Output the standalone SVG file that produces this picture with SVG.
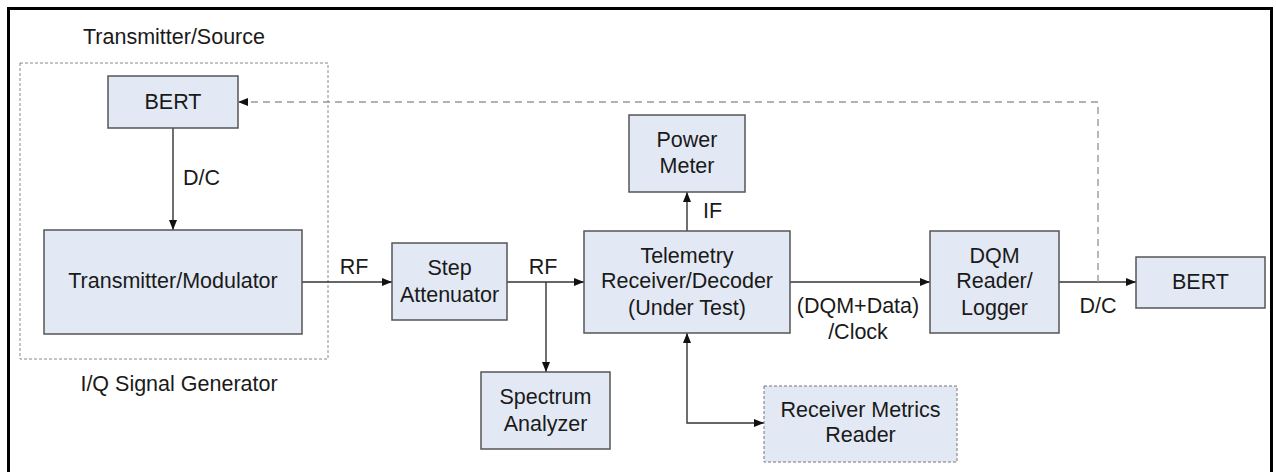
<svg xmlns="http://www.w3.org/2000/svg" width="1276" height="472" viewBox="0 0 1276 472">
<defs>
<marker id="arr" viewBox="0 0 10 8" markerUnits="userSpaceOnUse" markerWidth="10" markerHeight="8" refX="10" refY="4" orient="auto-start-reverse">
<path d="M0,0 L10,4 L0,8 z" fill="#111"/>
</marker>
<marker id="arrg" viewBox="0 0 10 8" markerUnits="userSpaceOnUse" markerWidth="10" markerHeight="8" refX="10" refY="4" orient="auto">
<path d="M0,0 L10,4 L0,8 z" fill="#111"/>
</marker>
<style>
text{font-family:"Liberation Sans",Arial,sans-serif;font-size:21.5px;fill:#1a1a1a;text-anchor:middle}
.box{fill:#e3e9f4;stroke:#555;stroke-width:1.5}
.dbox{fill:#e3e9f4;stroke:#777;stroke-width:1;stroke-dasharray:3 2}
.grp{fill:none;stroke:#888;stroke-width:1;stroke-dasharray:3 2}
.c{fill:none;stroke:#333;stroke-width:1.4}
.cd{fill:none;stroke:#999;stroke-width:1.4;stroke-dasharray:7 5}
.lbl{text-anchor:start}
</style>
</defs>
<rect width="1276" height="472" fill="#fff"/>
<rect x="8.5" y="8.5" width="1263" height="480" fill="none" stroke="#000" stroke-width="3"/>

<g id="group-source">
<rect class="grp" x="20" y="63" width="308" height="296"/>
<text x="174" y="44">Transmitter/Source</text>
<text x="179" y="391">I/Q Signal Generator</text>
</g>

<g id="connectors">
<line class="c" x1="173" y1="128" x2="173" y2="230" marker-end="url(#arr)"/>
<line class="c" x1="302" y1="282" x2="392" y2="282" marker-end="url(#arr)"/>
<line class="c" x1="507" y1="282" x2="584" y2="282" marker-end="url(#arr)"/>
<line class="c" x1="546" y1="282" x2="546" y2="372" marker-end="url(#arr)"/>
<line class="c" x1="687" y1="231" x2="687" y2="192" marker-end="url(#arr)"/>
<path class="c" d="M687 333 V423 H764" marker-start="url(#arr)" marker-end="url(#arr)"/>
<line class="c" x1="790" y1="282" x2="930" y2="282" marker-end="url(#arr)"/>
<line class="c" x1="1059" y1="282" x2="1136" y2="282" marker-end="url(#arr)"/>
<path class="cd" d="M1098 282 V102 H238" marker-end="url(#arrg)"/>
<text class="lbl" x="183" y="185">D/C</text>
<text x="354" y="274">RF</text>
<text x="543" y="274">RF</text>
<text class="lbl" x="703" y="218">IF</text>
<text x="858" y="313">(DQM+Data)</text>
<text x="858" y="339">/Clock</text>
<text x="1098" y="313">D/C</text>
</g>

<g id="bert-src">
<rect class="box" x="108" y="76" width="130" height="52"/>
<text x="173" y="109">BERT</text>
</g>
<g id="tx-mod">
<rect class="box" x="44" y="230" width="258" height="104"/>
<text x="173" y="288">Transmitter/Modulator</text>
</g>
<g id="step-att">
<rect class="box" x="392" y="243" width="115" height="77"/>
<text x="449.5" y="275">Step</text>
<text x="449.5" y="302">Attenuator</text>
</g>
<g id="spectrum">
<rect class="box" x="481" y="372" width="129" height="77"/>
<text x="545.5" y="404">Spectrum</text>
<text x="545.5" y="431">Analyzer</text>
</g>
<g id="telemetry">
<rect class="box" x="584" y="231" width="206" height="102"/>
<text x="687" y="263">Telemetry</text>
<text x="687" y="288">Receiver/Decoder</text>
<text x="687" y="315">(Under Test)</text>
</g>
<g id="power-meter">
<rect class="box" x="629" y="115" width="116" height="77"/>
<text x="687" y="147">Power</text>
<text x="687" y="173">Meter</text>
</g>
<g id="rx-metrics">
<rect class="dbox" x="764" y="386" width="193" height="76"/>
<text x="860.5" y="417">Receiver Metrics</text>
<text x="860.5" y="442">Reader</text>
</g>
<g id="dqm">
<rect class="box" x="930" y="231" width="129" height="102"/>
<text x="994.5" y="263">DQM</text>
<text x="994.5" y="288">Reader/</text>
<text x="994.5" y="315">Logger</text>
</g>
<g id="bert-sink">
<rect class="box" x="1136" y="257" width="129" height="51"/>
<text x="1200.5" y="289">BERT</text>
</g>
</svg>
